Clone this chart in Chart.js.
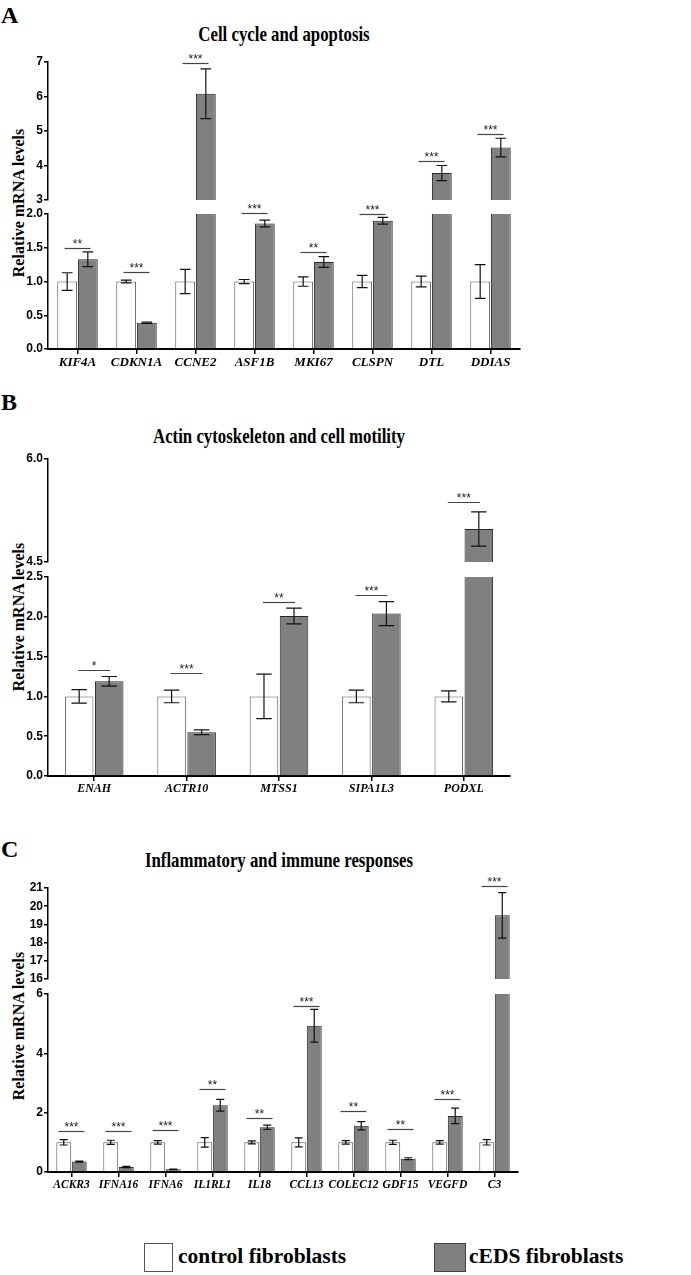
<!DOCTYPE html>
<html>
<head>
<meta charset="utf-8">
<script src="https://cdn.jsdelivr.net/npm/chart.js@4.4.1/dist/chart.umd.min.js"></script>
<style>
  body { margin: 0; background: #fff; }
  #page { position: relative; width: 691px; height: 1275px; overflow: hidden; font-family: "Liberation Serif", "Times New Roman", serif; color: #000; }
  #page canvas { position: absolute; left: 0; }
  .letter { position: absolute; font-weight: bold; font-size: 24px; line-height: 1; }
  .title { position: absolute; font-weight: bold; font-size: 21px; line-height: 1; white-space: nowrap; transform: translate(-50%, -50%) scaleX(0.8); }
  .ylab { position: absolute; font-weight: bold; font-size: 16px; line-height: 1; white-space: nowrap; transform: translate(-50%, -50%) rotate(-90deg); }
  .legbox { position: absolute; width: 29px; height: 29px; box-sizing: border-box; }
  .legtxt { position: absolute; font-weight: bold; font-size: 21.5px; line-height: 1; white-space: nowrap; }
</style>
</head>
<body>
<div id="page">
  <div class="letter" style="left:1px;top:3px;">A</div>
  <div class="title" style="left:284px;top:34px;">Cell cycle and apoptosis</div>
  <div class="ylab" style="left:19px;top:203px;">Relative mRNA levels</div>

  <div class="letter" style="left:1px;top:390px;">B</div>
  <div class="title" style="left:279px;top:436px;">Actin cytoskeleton and cell motility</div>
  <div class="ylab" style="left:19px;top:617px;">Relative mRNA levels</div>

  <div class="letter" style="left:1px;top:837px;">C</div>
  <div class="title" style="left:279px;top:860px;">Inflammatory and immune responses</div>
  <div class="ylab" style="left:19px;top:1026px;">Relative mRNA levels</div>

  <div class="legbox" style="left:144px;top:1243px;background:#fff;border:1px solid #555;"></div>
  <div class="legtxt" style="left:178px;top:1246px;">control fibroblasts</div>
  <div class="legbox" style="left:434px;top:1243px;width:32px;background:#808080;border:1px solid #444;"></div>
  <div class="legtxt" style="left:469px;top:1246px;">cEDS fibroblasts</div>
</div>
<script>
// ---- Panel A: cell cycle and apoptosis ----
const aGenes = ['KIF4A', 'CDKN1A', 'CCNE2', 'ASF1B', 'MKI67', 'CLSPN', 'DTL', 'DDIAS'];
const aControl = [1, 1, 1, 1, 1, 1, 1, 1];
const aControlErr = [0.13, 0.02, 0.18, 0.03, 0.07, 0.09, 0.08, 0.25];
const aCeds = [1.33, 0.39, 6.08, 1.86, 1.29, 1.90, 3.78, 4.52];
const aCedsErr = [0.11, 0.01, 0.72, 0.05, 0.08, 0.05, 0.22, 0.27];
const aSigLevel = [1.5, 1.14, 6.96, 2.02, 1.44, 2.0, 4.12, 4.9];
const aSigStars = ['**', '***', '***', '***', '**', '***', '***', '***'];
const aUpperTicks = [3, 4, 5, 6, 7];
const aLowerTicks = [0, 0.5, 1, 1.5, 2];

// ---- Panel B: actin cytoskeleton and cell motility ----
const bGenes = ['ENAH', 'ACTR10', 'MTSS1', 'SIPA1L3', 'PODXL'];
const bControl = [1, 1, 1, 1, 1];
const bControlErr = [0.085, 0.08, 0.28, 0.08, 0.07];
const bCeds = [1.19, 0.55, 2.01, 2.04, 4.98];
const bCedsErr = [0.06, 0.03, 0.10, 0.15, 0.25];
const bSigLevel = [1.33, 1.29, 2.18, 2.28, 5.37];
const bSigStars = ['*', '***', '**', '***', '***'];
const bUpperTicks = [4.5, 6];
const bLowerTicks = [0, 0.5, 1, 1.5, 2, 2.5];

// ---- Panel C: inflammatory and immune responses ----
const cGenes = ['ACKR3', 'IFNA16', 'IFNA6', 'IL1RL1', 'IL18', 'CCL13', 'COLEC12', 'GDF15', 'VEGFD', 'C3'];
const cControl = [1, 1, 1, 1, 1, 1, 1, 1, 1, 1];
const cControlErr = [0.09, 0.07, 0.06, 0.16, 0.05, 0.15, 0.06, 0.07, 0.06, 0.09];
const cCeds = [0.35, 0.17, 0.09, 2.25, 1.51, 4.93, 1.56, 0.45, 1.89, 19.5];
const cCedsErr = [0.02, 0.02, 0.01, 0.20, 0.07, 0.55, 0.14, 0.03, 0.26, 1.25];
const cSigLevel = [1.37, 1.39, 1.43, 2.8, 1.81, 5.6, 2.04, 1.44, 2.46, 21.1];
const cSigStars = ['***', '***', '***', '**', '**', '***', '**', '**', '***', '***'];
const cUpperTicks = [16, 17, 18, 19, 20, 21];
const cLowerTicks = [0, 2, 4, 6];

const PAD_TOP = 30;   // room above each segment for stars
const PAD_BOT = 10;   // room below upper segments
const X_AXIS_H = 30;  // height of the x axis box in lower segments
const W = 691;

const serif = '"Liberation Serif", "Times New Roman", serif';
const sans = '"Liberation Sans", Arial, sans-serif';

// error bars + significance brackets, drawn with the chart's own scales
const annotations = {
  id: 'annotations',
  afterDatasetsDraw(chart, args, opts) {
    const ctx = chart.ctx;
    const y = chart.scales.y;
    const x = chart.scales.x;
    ctx.save();
    // error bars
    ctx.strokeStyle = '#111';
    ctx.lineWidth = 1.2;
    chart.data.datasets.forEach((ds, i) => {
      chart.getDatasetMeta(i).data.forEach((bar, j) => {
        const v = ds.data[j];
        const e = ds.err[j];
        if (v < y.min || v > y.max) return;
        const cap = bar.width * 0.27;
        const yt = y.getPixelForValue(v + e);
        const yb = y.getPixelForValue(v - e);
        ctx.beginPath();
        ctx.moveTo(bar.x, yt); ctx.lineTo(bar.x, yb);
        ctx.moveTo(bar.x - cap, yt); ctx.lineTo(bar.x + cap, yt);
        ctx.moveTo(bar.x - cap, yb); ctx.lineTo(bar.x + cap, yb);
        ctx.stroke();
      });
    });
    // significance lines and stars
    ctx.strokeStyle = '#444';
    ctx.fillStyle = '#222';
    ctx.font = '12px ' + sans;
    ctx.textAlign = 'center';
    ctx.textBaseline = 'bottom';
    opts.levels.forEach((lv, j) => {
      const upper = lv > opts.breakAt + 0.1;
      if (upper !== opts.isUpper) return;
      const cx = x.getPixelForValue(j);
      const py = Math.round(y.getPixelForValue(lv)) + 0.5;
      ctx.beginPath();
      ctx.moveTo(cx - opts.half, py); ctx.lineTo(cx + opts.half, py);
      ctx.stroke();
      ctx.fillText(opts.stars[j], cx, py + 2);
    });
    ctx.restore();
  }
};

function makeSegment(p, seg, isUpper) {
  const canvas = document.createElement('canvas');
  const top = seg.topPx - PAD_TOP;
  const h = seg.botPx - seg.topPx + PAD_TOP + (isUpper ? PAD_BOT : X_AXIS_H);
  canvas.width = W;
  canvas.height = h;
  canvas.style.top = top + 'px';
  canvas.style.width = W + 'px';
  canvas.style.height = h + 'px';
  document.getElementById('page').appendChild(canvas);

  new Chart(canvas, {
    type: 'bar',
    data: {
      labels: p.genes,
      datasets: [
        { label: 'control fibroblasts', data: p.control, err: p.controlErr,
          backgroundColor: '#ffffff', borderColor: '#5a5a5a', borderWidth: 1, clip: 0 },
        { label: 'cEDS fibroblasts', data: p.ceds, err: p.cedsErr,
          backgroundColor: '#808080', borderColor: '#262626', borderWidth: 1, clip: 0 }
      ]
    },
    options: {
      responsive: false,
      animation: false,
      events: [],
      layout: { padding: { top: PAD_TOP, right: W - p.axisRight, bottom: isUpper ? PAD_BOT : 0, left: 0 } },
      datasets: { bar: { categoryPercentage: p.catPct, barPercentage: p.barPct } },
      plugins: {
        legend: { display: false },
        tooltip: { enabled: false },
        annotations: { levels: p.sigLevel, stars: p.sigStars, breakAt: p.breakAt, isUpper: isUpper, half: p.sigHalf }
      },
      scales: {
        x: {
          display: !isUpper,
          grid: { drawOnChartArea: false, drawTicks: true, tickLength: 5, offset: false, color: '#000', lineWidth: 1.5 },
          border: { color: '#000', width: 2 },
          ticks: { color: '#000', padding: 1, maxRotation: 0, autoSkip: false,
                   font: { family: serif, style: 'italic', weight: 'bold', size: p.xFont } },
          afterFit: s => { s.height = isUpper ? 0 : X_AXIS_H; }
        },
        y: {
          min: seg.min,
          max: seg.max,
          afterBuildTicks: s => { s.ticks = seg.ticks.map(v => ({ value: v })); },
          afterFit: s => { s.width = 48; },
          grid: { drawOnChartArea: false, drawTicks: true, tickLength: 4, color: '#000', lineWidth: 1.5 },
          border: { color: '#000', width: 1.5 },
          ticks: { color: '#000', padding: 1, autoSkip: false, callback: v => seg.fmt(v),
                   font: { family: sans, weight: 'bold', size: 12 } }
        }
      }
    },
    plugins: [annotations]
  });
}

function makePanel(p) {
  makeSegment(p, p.upper, true);
  makeSegment(p, p.lower, false);
}

const int = v => String(v);
const one = v => v.toFixed(1);

makePanel({
  genes: aGenes, control: aControl, controlErr: aControlErr, ceds: aCeds, cedsErr: aCedsErr,
  sigLevel: aSigLevel, sigStars: aSigStars, breakAt: 2,
  axisRight: 520, catPct: 0.7, barPct: 0.96, sigHalf: 13, xFont: 13,
  upper: { min: 3, max: 7, ticks: aUpperTicks, topPx: 62, botPx: 200, fmt: int },
  lower: { min: 0, max: 2, ticks: aLowerTicks, topPx: 214, botPx: 349, fmt: one }
});

makePanel({
  genes: bGenes, control: bControl, controlErr: bControlErr, ceds: bCeds, cedsErr: bCedsErr,
  sigLevel: bSigLevel, sigStars: bSigStars, breakAt: 2.5,
  axisRight: 510, catPct: 0.65, barPct: 0.95, sigHalf: 16, xFont: 12,
  upper: { min: 4.5, max: 6, ticks: bUpperTicks, topPx: 459, botPx: 562, fmt: one },
  lower: { min: 0, max: 2.5, ticks: bLowerTicks, topPx: 577, botPx: 776, fmt: one }
});

makePanel({
  genes: cGenes, control: cControl, controlErr: cControlErr, ceds: cCeds, cedsErr: cCedsErr,
  sigLevel: cSigLevel, sigStars: cSigStars, breakAt: 6,
  axisRight: 518, catPct: 0.66, barPct: 0.96, sigHalf: 13, xFont: 11.5,
  upper: { min: 16, max: 21, ticks: cUpperTicks, topPx: 888, botPx: 979, fmt: int },
  lower: { min: 0, max: 6, ticks: cLowerTicks, topPx: 994, botPx: 1172, fmt: int }
});
</script>
</body>
</html>
